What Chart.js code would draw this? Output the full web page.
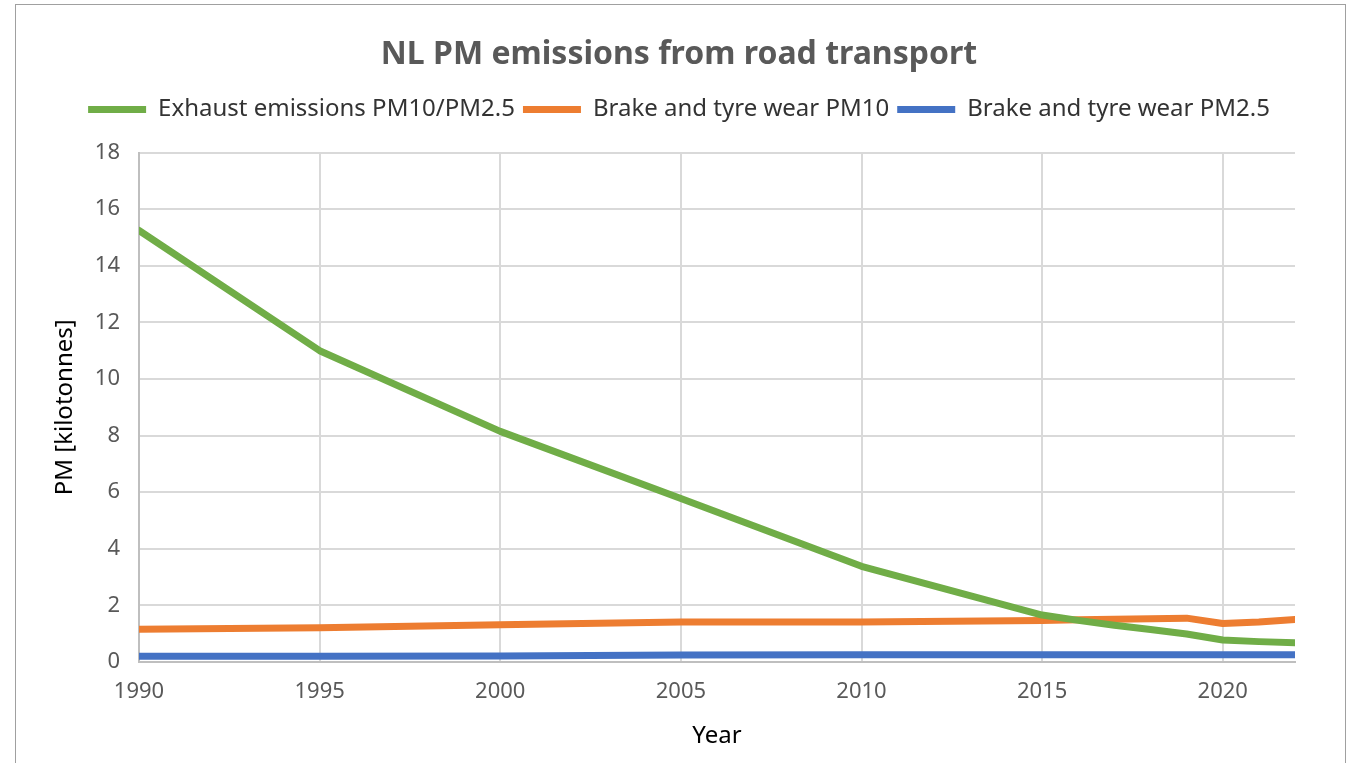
<!DOCTYPE html>
<html>
<head>
<meta charset="utf-8">
<script src="https://cdn.jsdelivr.net/npm/chart.js@4.4.0/dist/chart.umd.min.js"></script>
<style>
  html, body { margin: 0; padding: 0; background: #fff; overflow: hidden; }
  #wrap { position: relative; width: 1358px; height: 763px; }
  #frame { position: absolute; left: 15px; top: 4px; width: 1331px; height: 800px; border: 1px solid #a0a0a0; box-sizing: border-box; }
  canvas { position: absolute; left: 0; top: 0; }
</style>
</head>
<body>
<div id="wrap">
  <div id="frame"></div>
  <canvas id="pmChart" width="1358" height="763"></canvas>
</div>
<script>
const years = [1990, 1995, 2000, 2005, 2010, 2015, 2016, 2017, 2018, 2019, 2020, 2021, 2022];
const exhaust = [15.25, 11.0, 8.15, 5.78, 3.38, 1.66, 1.47, 1.3, 1.15, 0.99, 0.78, 0.72, 0.68];
const brakeTyrePM10 = [1.16, 1.21, 1.32, 1.41, 1.41, 1.47, 1.49, 1.51, 1.53, 1.55, 1.36, 1.41, 1.5];
const brakeTyrePM25 = [0.2, 0.2, 0.21, 0.25, 0.26, 0.26, 0.26, 0.26, 0.26, 0.26, 0.26, 0.26, 0.26];
const seriesNames = ["Exhaust emissions PM10/PM2.5", "Brake and tyre wear PM10", "Brake and tyre wear PM2.5"];

const toPoints = vals => vals.map((v, i) => ({ x: years[i], y: v }));

function lineSet(label, vals, color) {
    return {
        label: label,
        data: toPoints(vals),
        borderColor: color,
        backgroundColor: color,
        borderWidth: 7,
        borderCapStyle: "round",
        borderJoinStyle: "round",
        pointRadius: 0,
        pointStyle: "line",
        tension: 0,
        fill: false
    };
}

const fam = "'Noto Sans', sans-serif";
const tickFont = { family: fam, size: 22 };

new Chart(document.getElementById("pmChart"), {
    type: "line",
    data: {
        datasets: [
            lineSet(seriesNames[0], exhaust, "#70ad47"),
            lineSet(seriesNames[1], brakeTyrePM10, "#ed7d31"),
            lineSet(seriesNames[2], brakeTyrePM25, "#4472c4")
        ]
    },
    options: {
        responsive: false,
        animation: false,
        layout: { padding: { left: 63, right: 63, top: 0, bottom: 0 } },
        plugins: {
            title: {
                display: true,
                text: "NL PM emissions from road transport",
                color: "#595959",
                font: { family: fam, size: 32, weight: "bold" },
                padding: { top: 36, bottom: 15 }
            },
            // empty spacer between legend and plot
            subtitle: {
                display: true,
                text: " ",
                weight: 500,
                font: { size: 1 },
                padding: { top: 0, bottom: 20 }
            },
            legend: {
                display: true,
                labels: {
                    usePointStyle: true,
                    pointStyle: "line",
                    pointStyleWidth: 58,
                    color: "#333333",
                    font: { family: fam, size: 24 },
                    padding: 8
                }
            },
            tooltip: { enabled: false }
        },
        scales: {
            x: {
                type: "linear",
                min: 1990,
                max: 2022,
                ticks: {
                    stepSize: 5,
                    includeBounds: false,
                    color: "#595959",
                    font: tickFont,
                    padding: 17,
                    maxRotation: 0,
                    callback: v => String(v)
                },
                grid: { color: "#d9d9d9", lineWidth: 2, drawTicks: false },
                border: { color: "#bfbfbf", width: 2 },
                title: {
                    display: true,
                    text: "Year",
                    color: "#000000",
                    font: { family: fam, size: 24 },
                    padding: { top: 4, bottom: 12 }
                },
                afterFit: scale => { scale.height = 101; }
            },
            y: {
                min: 0,
                max: 18,
                ticks: {
                    stepSize: 2,
                    color: "#595959",
                    font: tickFont,
                    padding: 19
                },
                grid: { color: "#d9d9d9", lineWidth: 2, drawTicks: false },
                border: { color: "#bfbfbf", width: 2 },
                title: {
                    display: true,
                    text: "PM [kilotonnes]",
                    color: "#000000",
                    font: { family: fam, size: 24 },
                    padding: { top: -12, bottom: 0 }
                },
                afterFit: scale => { scale.width = 76; }
            }
        }
    }
});
</script>
</body>
</html>
